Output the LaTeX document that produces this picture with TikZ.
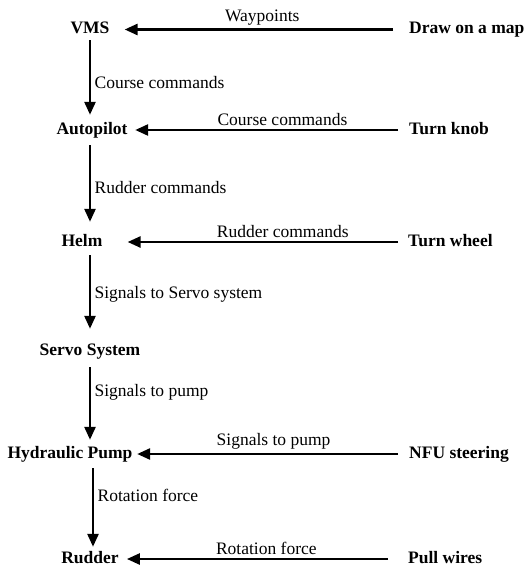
\documentclass[tikz,border=0pt]{standalone}
\usepackage{fontspec}
\setmainfont{Liberation Serif}
\usetikzlibrary{arrows.meta}

\begin{document}
\begin{tikzpicture}[x=1pt, y=-1pt,
    every node/.style={font=\fontsize{17.5}{20}\selectfont},
    blk/.style={font=\fontsize{17.5}{20}\selectfont\bfseries, inner sep=0pt,
                text height=12pt, text depth=4pt},
    flow/.style={-{Triangle[length=13pt, width=11pt]}, line width=2.6pt}]
  \useasboundingbox (0,0) rectangle (528,567);
  % 左列：竖直箭头所在的 x
  \coordinate (col)  at (90,0);
  \coordinate (col2) at (93,0);
  \node[blk] (vms)    at (90,29.5) {VMS};
  \node[blk] (auto)   at (92,130)  {Autopilot};
  \node[blk] (helm)   at (82,242)  {Helm};
  \node[blk] (servo)  at (90,351)  {Servo System};
  \node[blk] (pump)   at (70,454)  {Hydraulic Pump};
  \node[blk] (rudder) at (90,559)  {Rudder};
  % 右列：手动输入
  \node[blk, anchor=west] (map)   at (409,29.5) {Draw on a map};
  \node[blk, anchor=west] (knob)  at (409,130)  {Turn knob};
  \node[blk, anchor=west] (wheel) at (408,242)  {Turn wheel};
  \node[blk, anchor=west] (nfu)   at (409,454)  {NFU steering};
  \node[blk, anchor=west] (wires) at (408,559)  {Pull wires};

  % 竖直方向的信号链
  \draw[flow, shorten <=2.5pt, shorten >=7pt] (vms.south -| col) -- (auto.north -| col)
    node[right, pos=0.53] {Course commands};
  \draw[flow, shorten <=7pt, shorten >=12pt] (auto.south -| col) -- (helm.north -| col)
    node[right, pos=0.52] {Rudder commands};
  \draw[flow, shorten <=5pt, shorten >=14pt] (helm.south -| col) -- (servo.north -| col)
    node[right, pos=0.48] {Signals to Servo system};
  \draw[flow, shorten <=8pt, shorten >=6pt] (servo.south -| col) -- (pump.north -| col)
    node[right, pos=0.38] {Signals to pump};
  \draw[flow, shorten <=6pt, shorten >=4pt] (pump.south -| col2) -- (rudder.north -| col2)
    node[right, pos=0.37] {Rotation force};

  % 水平方向：从右向左
  \draw[flow, shorten <=16pt, shorten >=15pt] (map.west) -- (vms.east)
    node[above, pos=0.49] {Waypoints};
  \draw[flow, shorten <=11pt, shorten >=7.5pt] (knob.west) -- (auto.east)
    node[above, pos=0.45] {Course commands};
  \draw[flow, shorten <=10pt, shorten >=25pt] (wheel.west) -- (helm.east)
    node[above, pos=0.41] {Rudder commands};
  \draw[flow, shorten <=11pt, shorten >=4.5pt] (nfu.west) -- (pump.east)
    node[above, pos=0.49] {Signals to pump};
  \draw[flow, shorten <=20pt, shorten >=8pt] (wires.west) -- (rudder.east)
    node[above, pos=0.49] {Rotation force};
\end{tikzpicture}
\end{document}
